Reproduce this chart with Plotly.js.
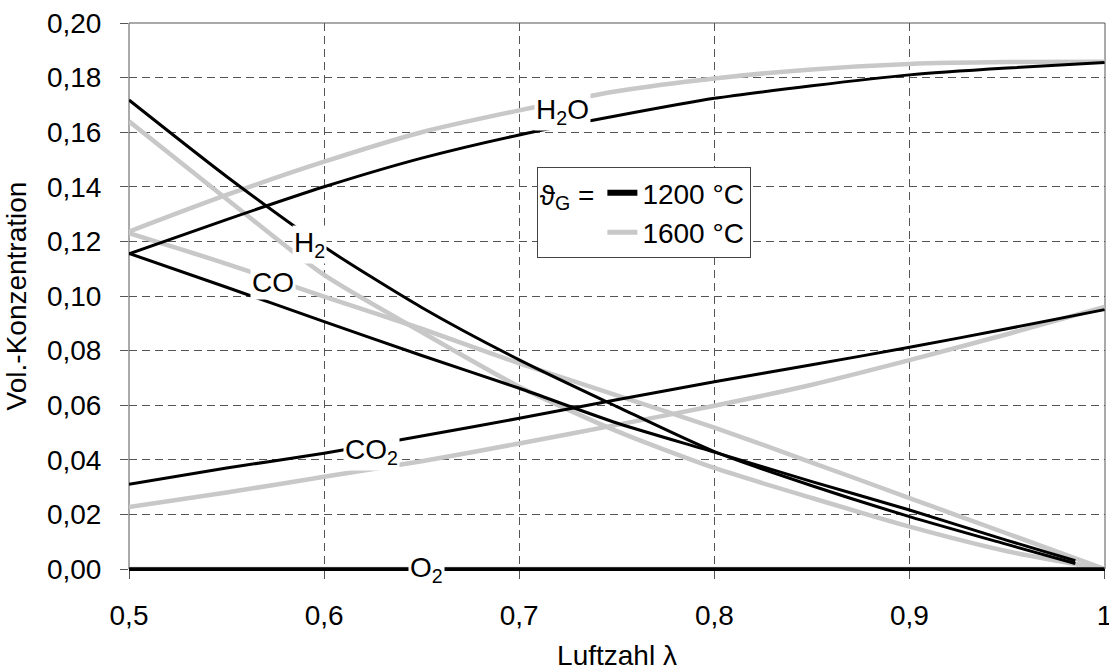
<!DOCTYPE html>
<html>
<head>
<meta charset="utf-8">
<script src="https://cdn.plot.ly/plotly-3.0.1.min.js"></script>
<style>html,body{margin:0;padding:0;background:#fff;}#chart{width:1109px;height:672px;}</style>
</head>
<body>
<div id="chart"></div>
<script>
// Luftzahl lambda grid
const lambda = [0.5, 0.55, 0.6, 0.65, 0.7, 0.75, 0.8, 0.85, 0.9, 0.95, 1.0];
const lambda1200Red = [0.5, 0.55, 0.6, 0.65, 0.7, 0.75, 0.8, 0.85, 0.9, 0.95, 0.985];

// 1200 °C
const h2o1200 = [0.1154, 0.128, 0.140, 0.1505, 0.159, 0.166, 0.1724, 0.177, 0.181, 0.1835, 0.1855];
const h21200  = [0.1718, 0.1438, 0.118, 0.0958, 0.0766, 0.0595, 0.0430, 0.0305, 0.0192, 0.009, 0.002];
const co1200  = [0.1156, 0.1032, 0.0906, 0.0782, 0.0662, 0.0535, 0.0428, 0.032, 0.0216, 0.0105, 0.003];
const co21200 = [0.031, 0.0370, 0.0424, 0.0487, 0.0552, 0.062, 0.0686, 0.0748, 0.0812, 0.088, 0.095];
const o21200  = [0, 0, 0, 0, 0, 0, 0, 0, 0, 0, 0];

// 1600 °C
const h2o1600 = [0.1236, 0.137, 0.1492, 0.160, 0.168, 0.175, 0.1797, 0.183, 0.185, 0.1857, 0.1858];
const h21600  = [0.164, 0.1355, 0.1077, 0.0868, 0.0668, 0.0505, 0.0370, 0.026, 0.0155, 0.0065, 0.0];
const co1600  = [0.123, 0.1118, 0.0998, 0.088, 0.0753, 0.0636, 0.0518, 0.039, 0.026, 0.013, 0.0];
const co21600 = [0.0227, 0.028, 0.0338, 0.0395, 0.046, 0.0528, 0.0598, 0.0675, 0.0765, 0.086, 0.096];
const o21600  = [0, 0, 0, 0, 0, 0, 0, 0, 0, 0, 0];

const xTickVals = [0.5, 0.6, 0.7, 0.8, 0.9, 1.0];
const xTickText = ['0,5', '0,6', '0,7', '0,8', '0,9', '1'];
const legendNames = ['1200 °C', '1600 °C'];

const FONT = 'Liberation Sans, Arial, sans-serif';
const FS = 28;
const BLACK = '#000000';
const GREY = '#c8c8c8';

function line(x, y, color, width) {
  return {x: x, y: y, type: 'scatter', mode: 'lines', showlegend: false, hoverinfo: 'skip',
          line: {color: color, width: width, shape: 'spline', smoothing: 0.7}};
}

const data = [
  line(lambda, o21600, GREY, 4.5),
  line(lambda, h2o1600, GREY, 4.5),
  line(lambda, h21600, GREY, 4.5),
  line(lambda, co1600, GREY, 4.5),
  line(lambda, co21600, GREY, 4.5),
  line(lambda, h2o1200, BLACK, 3),
  line(lambda1200Red, h21200, BLACK, 3),
  line(lambda1200Red, co1200, BLACK, 3),
  line(lambda, co21200, BLACK, 3),
  line(lambda, o21200, BLACK, 3.5),
  {x: [null], y: [null], type: 'scatter', mode: 'lines', name: legendNames[0], showlegend: true,
   line: {color: BLACK, width: 6}},
  {x: [null], y: [null], type: 'scatter', mode: 'lines', name: legendNames[1], showlegend: true,
   line: {color: GREY, width: 5}}
];

function lbl(x, y, text) {
  return {x: x, y: y, xref: 'x', yref: 'y', text: text, showarrow: false,
          bgcolor: '#ffffff', borderpad: 1, font: {family: FONT, size: FS, color: '#000'}};
}

const layout = {
  width: 1109, height: 672,
  margin: {l: 129, r: 4, t: 23, b: 103},
  paper_bgcolor: '#ffffff', plot_bgcolor: '#ffffff',
  font: {family: FONT, size: FS, color: '#000'},
  separators: ',.',
  xaxis: {
    range: [0.5, 1.0002], tickmode: 'array', tickvals: xTickVals, ticktext: xTickText,
    showgrid: true, gridcolor: '#555', griddash: '8px,5px', gridwidth: 1,
    zeroline: false, showline: true, linecolor: '#000', linewidth: 2, mirror: false,
    ticks: 'outside', ticklen: 8, tickcolor: '#555', ticklabelstandoff: 12,
    ticklabeloverflow: 'allow',
    tickfont: {family: FONT, size: FS},
    title: {text: 'Luftzahl λ', font: {family: FONT, size: FS}, standoff: 16}
  },
  yaxis: {
    range: [0, 0.2], dtick: 0.02, tick0: 0, tickformat: '.2f',
    showgrid: true, gridcolor: '#555', griddash: '8px,5px', gridwidth: 1,
    zeroline: false, showline: false,
    ticks: 'outside', ticklen: 8, tickcolor: '#555', ticklabelstandoff: 13,
    tickfont: {family: FONT, size: FS},
    title: {text: 'Vol.-Konzentration', font: {family: FONT, size: FS}, standoff: 12}
  },
  shapes: [
    {type: 'rect', xref: 'paper', yref: 'paper', x0: 0, x1: 1, y0: 0, y1: 1,
     line: {color: '#555', width: 1}, layer: 'below'}
  ],
  showlegend: true,
  legend: {
    x: 0.4177, y: 0.736, xanchor: 'left', yanchor: 'top',
    bgcolor: '#ffffff', bordercolor: '#444', borderwidth: 1,
    font: {family: FONT, size: FS, color: '#000'},
    title: {text: 'ϑ<sub>G</sub> =', side: 'left', font: {family: FONT, size: FS}},
    tracegroupgap: 0, itemwidth: 30
  },
  annotations: [
    lbl(0.7223, 0.1675, 'H<sub>2</sub>O'),
    lbl(0.5927, 0.1187, 'H<sub>2</sub>'),
    lbl(0.574, 0.1049, 'CO'),
    lbl(0.6243, 0.043, 'CO<sub>2</sub>'),
    lbl(0.6525, 0.0, 'O<sub>2</sub>')
  ]
};

Plotly.newPlot('chart', data, layout, {displayModeBar: false, staticPlot: true});
</script>
</body>
</html>
